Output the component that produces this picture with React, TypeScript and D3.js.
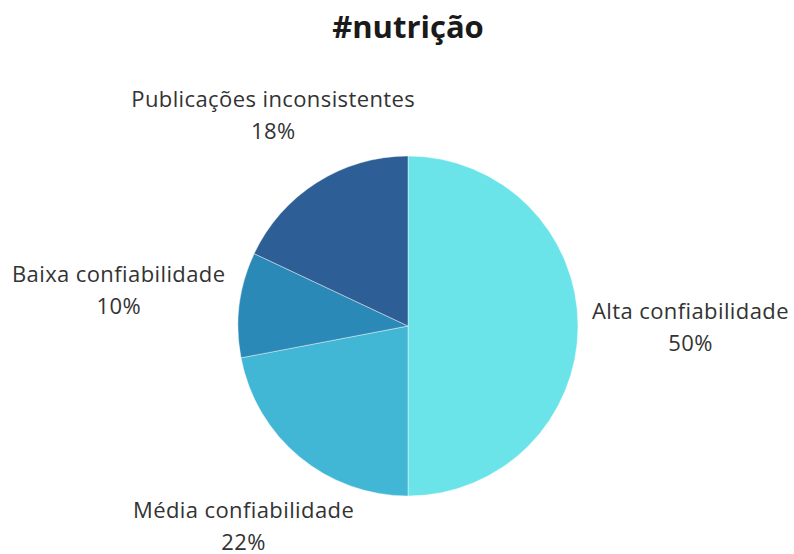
import React, { useEffect, useRef } from "react";
import * as d3 from "d3";

const categories = ["Alta confiabilidade", "Média confiabilidade", "Baixa confiabilidade", "Publicações inconsistentes"];
const values = [50, 22, 10, 18];
const colors = ["#6ae4e8", "#42b7d5", "#2b89b7", "#2e5e96"];
const title = "#nutrição";

const W = 794;
const H = 554;

export default function App() {
  const ref = useRef<SVGSVGElement | null>(null);

  useEffect(() => {
    const svg = d3.select(ref.current);
    svg.selectAll("*").remove();
    const cx = 408, cy = 326, r = 170;
    const data = categories.map((c, i) => ({ c, v: values[i], col: colors[i] }));
    const pie = d3.pie<any>().sort(null).value((d: any) => d.v);
    const arcs = pie(data);
    const arc = d3.arc<any>().innerRadius(0).outerRadius(r);
    const g = svg.append("g").attr("transform", `translate(${cx},${cy})`);
    g.selectAll("path").data(arcs).join("path")
      .attr("d", arc as any)
      .attr("fill", (d: any) => d.data.col)
      .attr("stroke", "#ffffff")
      .attr("stroke-width", 0.6)
      .attr("stroke-opacity", 0.7);

    const total = d3.sum(values);
    const fmt = (v: number) => `${Math.round((v / total) * 100)}%`;
    const lineH = 32;
    const R0 = 184;
    arcs.forEach((a: any) => {
      const mid = (a.startAngle + a.endAngle) / 2;
      const dx = Math.sin(mid), dy = -Math.cos(mid);
      const t = g.append("text")
        .attr("text-anchor", "middle")
        .attr("font-family", "'Open Sans', sans-serif")
        .attr("font-size", 22)
        .attr("letter-spacing", 0.4)
        .attr("fill", "#333333");
      t.append("tspan").attr("x", 0).attr("y", 0).text(a.data.c);
      t.append("tspan").attr("x", 0).attr("y", lineH).text(fmt(a.data.v));
      const bb = (t.node() as SVGTextElement).getBBox();
      const hw = bb.width / 2;
      const hh = bb.height / 2 + 26;
      const tx = Math.abs(dx) > 1e-6 ? hw / Math.abs(dx) : Infinity;
      const ty = Math.abs(dy) > 1e-6 ? hh / Math.abs(dy) : Infinity;
      const dist = R0 + Math.min(tx, ty);
      const bcx = dx * dist, bcy = dy * dist;
      const offY = bcy - (bb.y + bb.height / 2);
      t.attr("transform", `translate(${bcx},${offY})`);
    });

    svg.append("text")
      .attr("x", cx).attr("y", 38)
      .attr("text-anchor", "middle")
      .attr("font-family", "'Open Sans', sans-serif")
      .attr("font-weight", "bold")
      .attr("font-size", 31)
      .attr("fill", "#1a1a1a")
      .text(title);
  }, []);

  return (
    <svg ref={ref} width={W} height={H} style={{ position: "absolute", left: 0, top: 0, background: "#fff" }} />
  );
}
